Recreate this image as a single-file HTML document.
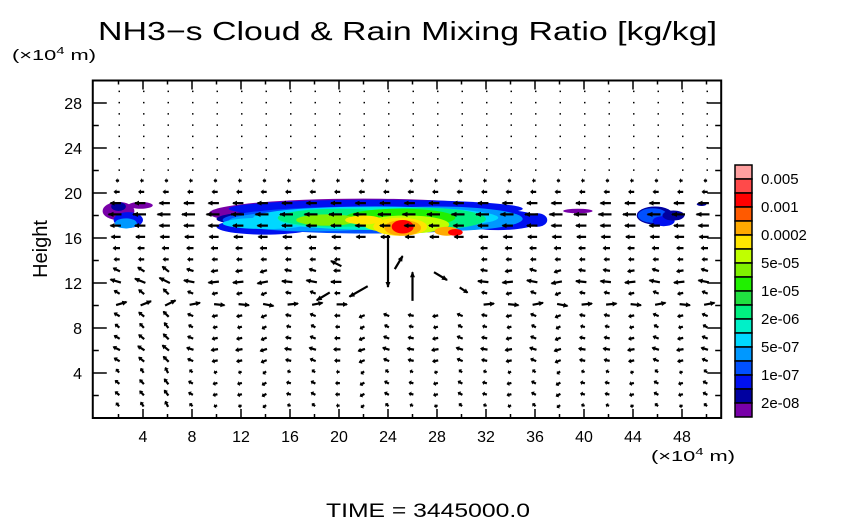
<!DOCTYPE html>
<html><head><meta charset="utf-8"><style>
body{margin:0;background:#fff;}
svg{display:block;font-family:"Liberation Sans",sans-serif;}
</style></head><body>
<svg id="chart" width="854" height="519" viewBox="0 0 854 519" xmlns="http://www.w3.org/2000/svg">
<text x="98" y="40" font-size="26" textLength="619" lengthAdjust="spacingAndGlyphs">NH3−s Cloud &amp; Rain Mixing Ratio [kg/kg]</text>
<text x="12" y="60" font-size="15" textLength="84" lengthAdjust="spacingAndGlyphs">(×10<tspan font-size="10" dy="-6">4</tspan><tspan dy="6"> m)</tspan></text>
<text transform="translate(47,249) rotate(-90)" text-anchor="middle" font-size="20">Height</text>
<text x="651" y="461" font-size="15" textLength="84" lengthAdjust="spacingAndGlyphs">(×10<tspan font-size="10" dy="-6">4</tspan><tspan dy="6"> m)</tspan></text>
<text x="326" y="517" font-size="19" textLength="204" lengthAdjust="spacingAndGlyphs">TIME = 3445000.0</text>
<g id="clouds"></g>
<g id="vectors"></g>
<g id="axes"></g>
<g id="cbar"></g>
</svg>
<script>
// axis ranges
const xTicks = [4,8,12,16,20,24,28,32,36,40,44,48];
const yTicks = [4,8,12,16,20,24,28];
// colorbar
const cbColors = ["#ff9f9f","#ff4a4a","#ff0000","#ff5a00","#ffaa00","#ffe600","#c0ff00","#80f000","#20f000","#20e040","#00f080","#00f0c8","#00d8ff","#0098ff","#0050ff","#0010f0","#0000a0","#7800a8"];
const cbLabels = ["0.005","0.001","0.0002","5e-05","1e-05","2e-06","5e-07","1e-07","2e-08"];
// cloud blobs: [x center, z center, x radius, z radius, colour level index]
const blobs = [
 [2,18.4,1.3,0.8,17],[2.8,17.6,1.2,0.7,15],[2.6,17.3,0.9,0.45,13],[2,18.8,0.6,0.4,16],[3.8,18.9,1,0.3,17],
 [22,18.2,12.6,1.3,17],[23,17.7,13,1.1,16],[14,17,4,0.7,15],[33,17.6,3.5,0.9,15],[23,18.6,12,0.8,15],
 [22.5,17.6,12,1.2,14],[18,17.5,7,0.9,13],[28,17.7,7,1.1,13],[14,17.3,3.5,0.5,12],
 [23,17.8,10,1.0,12],[23.5,17.7,8.5,1.0,11],[20,17.8,5,0.8,10],[26.5,17.7,5.5,1.0,10],
 [25,17.8,4.5,0.8,8],[19,17.6,2.5,0.5,7],[25.5,17.2,3.5,0.8,6],[25,17,2.2,0.8,5],[25.2,16.9,1.5,0.7,4],[25.2,17,0.9,0.6,2],
 [28.8,16.6,1,0.4,4],[29.5,16.5,0.6,0.3,2],[22,17.6,1.5,0.4,5],
 [36.2,17.6,0.8,0.6,15],[39.5,18.4,1.2,0.2,17],
 [45.8,18,1.5,0.8,16],[45.6,18,1.2,0.65,14],[46.5,17.5,0.9,0.45,15],[47.3,18,0.9,0.45,16],
 [49.6,19,0.4,0.15,16]
];
// wind: horizontal component per level z=1..29 (bottom to top)
const levelU = [-2,-3,-3,-2,-4,-5,-4,-3,-4,8,-4,-8,-5,-4,-5,-7,-8,-10,-8,-4,-2,-1,0,0,0,0,0,0,0];
// column vertical perturbation for columns x=2..50
const colW = [3,4,5,2,-1,-1,-2,1,2,0,-2,2,1,-1,2,1,-1,2,-2,1,1,-1,2,-1,2];
// storm arrows: [x, z, u, w]
const storm = [[24,15.2,0,-40],[26,11,0,22],[22,11.5,-14,-8],[28,12.8,10,-6],[24.7,13.5,6,10],[30,11.5,6,-4],[20,13.6,-8,4],[19,11,-10,-6]];

const X0=94, XS=12.25, Y0=418, YS=11.25;
const xp=v=>X0+v*XS, yp=v=>Y0-v*YS;
const NS="http://www.w3.org/2000/svg";
function mk(tag,attrs,parent){const e=document.createElementNS(NS,tag);for(const k in attrs)e.setAttribute(k,attrs[k]);parent.appendChild(e);return e;}

const clouds=document.getElementById('clouds');
blobs.forEach(b=>{
 const e=mk('ellipse',{cx:xp(b[0]),cy:yp(b[1]),rx:b[2]*XS,ry:b[3]*YS,fill:cbColors[b[4]]},clouds);
 
 
});

const vec=document.getElementById('vectors');
function arrow(x,z,u,w){
 const x1=xp(x),y1=yp(z);
 const len=Math.hypot(u,w);
 if(len<1.5){const d=mk('rect',{x:x1,y:y1,width:1.5,height:1.5,fill:'#000'},vec);
   
   return;}
 const x2=x1+u,y2=y1-w;
 const g=mk('g',{},vec);
 
 
 mk('line',{x1:x1-u*0.3,y1:y1+w*0.3,x2:x2,y2:y2,stroke:'#000','stroke-width':2.2},g);
 const ux=u/len,uy=-w/len,h=Math.min(5,len*0.5);
 mk('polygon',{points:`${x2+ux*1},${y2+uy*1} ${x2-ux*h-uy*2.5},${y2-uy*h+ux*2.5} ${x2-ux*h+uy*2.5},${y2-uy*h-ux*2.5}`,fill:'#000'},g);
}
for(let c=0;c<colW.length;c++){
 const x=2+2*c;
 for(let k=0;k<levelU.length;k++){
  const z=k+1.1;
  let w = (z<14)? colW[c]*0.8 : 0;
  if(x>=22&&x<=30&&z>10&&z<16) continue;
  arrow(x,z,levelU[k],w);
 }
}
storm.forEach(s=>arrow(s[0],s[1],s[2],s[3]));

const ax=document.getElementById('axes');
const f=mk('rect',{x:xp(-0.1),y:yp(30),width:xp(51.2)-xp(-0.1),height:Y0-yp(30),fill:'none',stroke:'#000','stroke-width':2},ax);


for(let v=2;v<=50;v+=2){
 const maj=xTicks.includes(v), L=maj?9:4;
 mk('line',{x1:xp(v),y1:Y0,x2:xp(v),y2:Y0-L,stroke:'#000','stroke-width':1.5},ax);
 mk('line',{x1:xp(v),y1:yp(30),x2:xp(v),y2:yp(30)+L,stroke:'#000','stroke-width':1.5},ax);
}
for(let v=2;v<=28;v+=2){
 const maj=yTicks.includes(v), L=maj?14:6;
 mk('line',{x1:xp(-0.1),y1:yp(v),x2:xp(-0.1)+L,y2:yp(v),stroke:'#000','stroke-width':1.5},ax);
 mk('line',{x1:xp(51.2),y1:yp(v),x2:xp(51.2)-L,y2:yp(v),stroke:'#000','stroke-width':1.5},ax);
}
xTicks.forEach(v=>{const t=mk('text',{x:xp(v),y:442,'text-anchor':'middle','font-size':16},ax);t.textContent=v;
 
 });
yTicks.forEach(v=>{const t=mk('text',{x:82,y:yp(v)+6,'text-anchor':'end','font-size':16},ax);t.textContent=v;
 
 });

const cb=document.getElementById('cbar');
const CT=165, CH=14;
cbColors.forEach((c,i)=>{const r=mk('rect',{x:735,y:CT+i*CH,width:17,height:CH,fill:c,stroke:'#000','stroke-width':1.5},cb);
 
 });
cbLabels.forEach((l,i)=>{const t=mk('text',{x:761,y:CT+(2*i+1)*CH+5,'font-size':15},cb);t.textContent=l;
 
 });
</script>
</body></html>
